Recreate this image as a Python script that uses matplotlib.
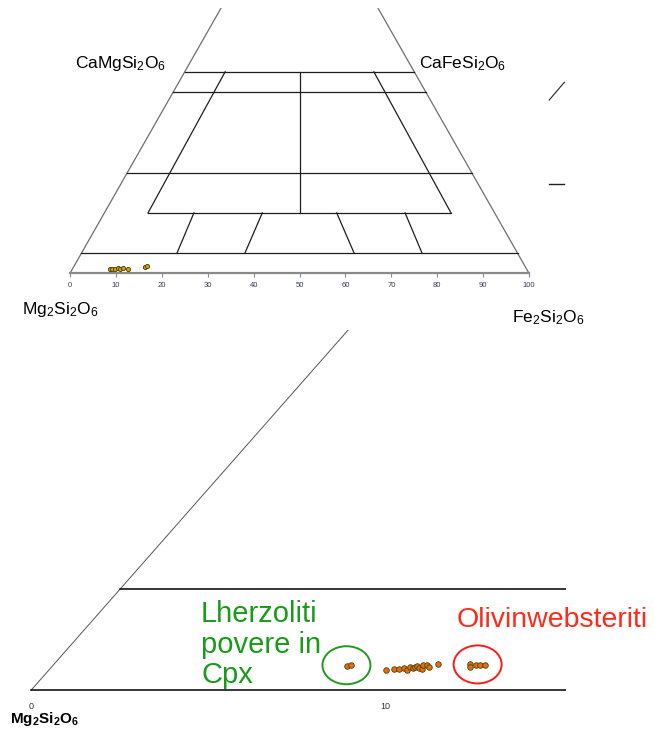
import matplotlib
matplotlib.use("Agg")
import matplotlib.pyplot as plt
from matplotlib.patches import Ellipse

plt.rcParams["font.family"] = ["Liberation Sans", "DejaVu Sans"]
plt.rcParams["mathtext.fontset"] = "custom"
plt.rcParams["mathtext.rm"] = "Liberation Sans"
plt.rcParams["mathtext.it"] = "Liberation Sans:italic"
plt.rcParams["mathtext.bf"] = "Liberation Sans:bold"

# pyroxene analyses, (Wo, Fs) in mol %
top_wo = [1.07, 1.07, 1.07, 1.24, 1.07, 1.24, 1.07, 1.56, 1.81]
top_fs = [8.18, 8.68, 9.27, 9.77, 10.36, 10.99, 12.17, 15.56, 15.80]

lherz_wo = [1.19, 1.24]
lherz_fs = [8.32, 8.39]
mid_wo = [0.99, 1.04, 1.04, 1.08, 0.99, 1.13, 1.08, 1.16, 1.21, 1.08, 1.03, 1.24, 1.24, 1.13, 1.29]
mid_fs = [9.51, 9.71, 9.86, 9.97, 10.09, 10.12, 10.23, 10.25, 10.27, 10.41, 10.50, 10.44, 10.53, 10.66, 10.84]
olweb_wo = [1.29, 1.16, 1.23, 1.23, 1.23]
olweb_fs = [11.73, 11.80, 11.93, 12.04, 12.19]

# field boundaries of the quadrilateral, segments of (Wo, Fs)
wo_full_lines = [5, 25, 45, 50]
field_lines = [
    [(15, 9.5), (15, 75.5)],
    [(15, 9.5), (50, 8.8)],
    [(15, 75.5), (50, 41.2)],
    [(15, 42.5), (50, 25.0)],
    [(15, 19.5), (5, 20.8)],
    [(15, 34.4), (5, 35.6)],
    [(15, 50.6), (5, 59.4)],
    [(15, 65.5), (5, 74.2)],
]
tick_values = list(range(0, 101, 10))


def tx(wo, fs):
    # horizontal position along the En-Fs join
    return fs + wo / 2.0


def draw_frame(ax, edge_col, edge_lw, line_col, line_lw, base_col, base_lw):
    ax.plot([tx(0, 0), tx(100, 0)], [0, 100], color=edge_col, lw=edge_lw)
    ax.plot([tx(0, 100), tx(100, 0)], [0, 100], color=edge_col, lw=edge_lw)
    ax.plot([0, 100], [0, 0], color=base_col, lw=base_lw)
    for w in wo_full_lines:
        ax.plot([tx(w, 0), tx(w, 100 - w)], [w, w], color=line_col, lw=line_lw)
    for seg in field_lines:
        ax.plot([tx(*p) for p in seg], [p[0] for p in seg], color=line_col, lw=line_lw)


fig = plt.figure(figsize=(6.54, 7.33), dpi=100)

# full quadrilateral
ax1 = fig.add_axes([0, 1 - 340 / 733, 1, 332 / 733])
ax1.set_xlim(-15.25, 127.23)
ax1.set_ylim(-16.55, 65.83)
ax1.axis("off")
draw_frame(ax1, "#6e6e6e", 0.9, "#1e1e1e", 0.9, "#8a8a8a", 1.6)
ax1.vlines(tick_values, -1.0, 0, color="#8a8a8a", lw=0.8)
for t in tick_values:
    ax1.text(t, -3.1, str(t), fontsize=5.5, color="#3a3a5a", ha="center", va="center")
ax1.scatter([tx(w, f) for w, f in zip(top_wo, top_fs)], top_wo, s=9,
            c="#d6a20e", edgecolors="#3a3a00", linewidths=0.6, zorder=3)

ax1.text(1.1, 50.9, r"CaMgSi$_2$O$_6$", fontsize=12.5, va="baseline")
ax1.text(76.0, 50.9, r"CaFeSi$_2$O$_6$", fontsize=12.5, va="baseline")
ax1.text(-10.5, -10.1, r"Mg$_2$Si$_2$O$_6$", fontsize=12.5, va="baseline")
ax1.text(96.2, -12.2, r"Fe$_2$Si$_2$O$_6$", fontsize=12.5, va="baseline")

# two short strokes in the right margin
ax1.plot([104.4, 107.7], [43.0, 47.4], color="#222222", lw=0.8)
ax1.plot([104.4, 107.6], [22.1, 22.1], color="#222222", lw=1.0)

# enlarged low-Wo corner
ax2 = fig.add_axes([0, 0, 566 / 654, 403 / 733])
ax2.set_xlim(-0.883, 15.083)
ax2.set_ylim(-2.135, 17.875)
ax2.axis("off")
draw_frame(ax2, "#555555", 0.7, "#000000", 1.1, "#000000", 1.1)
for t in [0, 10]:
    ax2.text(t, -0.8, str(t), fontsize=6.5, color="#333333", ha="center", va="center")
ax2.text(-0.6, -1.64, r"$\mathbf{Mg_2Si_2O_6}$", fontsize=11, va="baseline")

for wo, fs in [(lherz_wo, lherz_fs), (mid_wo, mid_fs), (olweb_wo, olweb_fs)]:
    ax2.scatter([tx(w, f) for w, f in zip(wo, fs)], wo, s=16,
                c="#ec6a0c", edgecolors="#3a4a12", linewidths=0.6, zorder=3)

ax2.add_patch(Ellipse((8.89, 1.23), 1.354, 1.887, fill=False, ec="#1f9a1f", lw=1.4))
ax2.add_patch(Ellipse((12.59, 1.27), 1.354, 1.887, fill=False, ec="#ff1a1a", lw=1.4))

ax2.text(4.79, 4.45, "Lherzoliti\npovere in\nCpx", fontsize=21, color="#1a9a1a",
         va="top", ha="left", linespacing=1.11)
ax2.text(12.0, 3.14, "Olivinwebsteriti", fontsize=20.5, color="#ff2a1a",
         va="baseline", ha="left")

fig.savefig("out.png", dpi=100)
